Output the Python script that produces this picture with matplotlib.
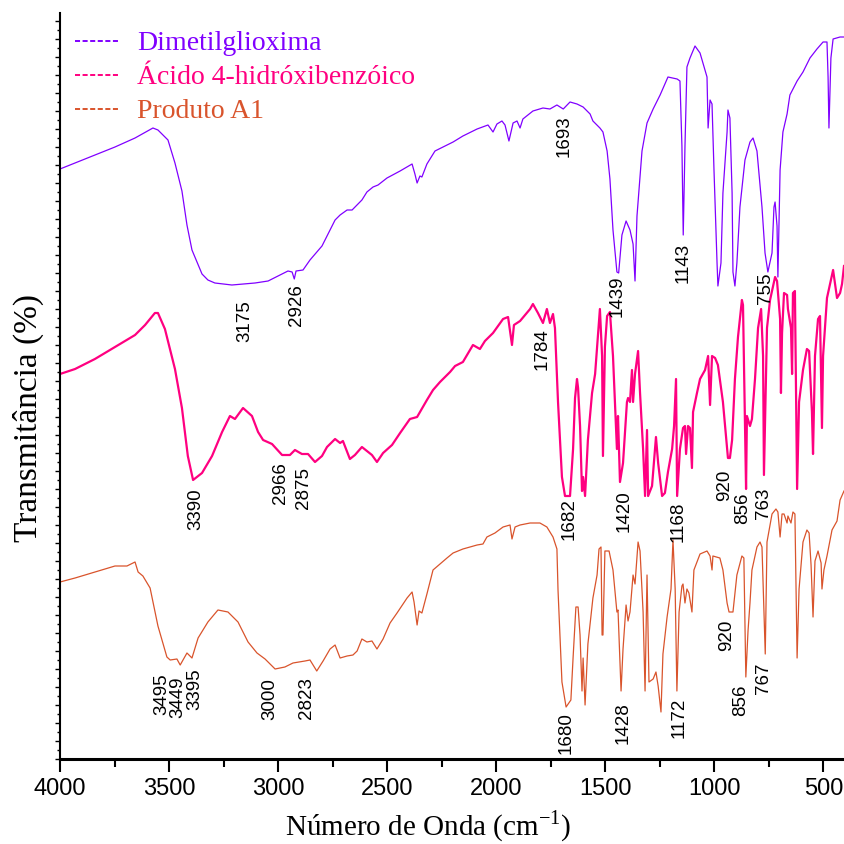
import matplotlib
matplotlib.use("Agg")
import matplotlib.pyplot as plt
from matplotlib.lines import Line2D
from matplotlib.ticker import MultipleLocator

plt.rcParams['font.family'] = ['Liberation Sans', 'DejaVu Sans']

# Dimetilglioxima (eixo y com deslocamento, sem escala)
dmg_wn = [
    4000, 3931, 3840, 3748, 3656, 3574, 3551, 3505, 3473, 3441,
    3418, 3395, 3349, 3322, 3290, 3212, 3106, 3046, 2982, 2955,
    2936, 2926, 2918, 2886, 2854, 2799, 2739, 2716, 2684, 2661,
    2616, 2593, 2565, 2542, 2501, 2441, 2386, 2373, 2363, 2350,
    2341, 2318, 2281, 2226, 2198, 2153, 2088, 2038, 2015, 1997,
    1974, 1960, 1942, 1923, 1905, 1891, 1878, 1832, 1786, 1754,
    1722, 1693, 1662, 1630, 1602, 1570, 1557, 1525, 1511, 1492,
    1479, 1465, 1447, 1439, 1424, 1405, 1387, 1373, 1364, 1355,
    1332, 1309, 1281, 1249, 1213, 1171, 1158, 1149, 1143, 1135,
    1126, 1112, 1089, 1066, 1043, 1034, 1029, 1020, 1011, 1002,
    988, 984, 970, 961, 942, 938, 929, 919, 915, 906,
    897, 883, 860, 837, 823, 805, 782, 768, 755, 736,
    727, 722, 713, 709, 699, 686, 667, 654, 621, 594,
    562, 530, 502, 484, 479, 475, 466, 456, 424, 406]
dmg_t = [
    118.0, 119.2, 120.8, 122.4, 124.2, 126.2, 125.8, 123.8, 119.2, 113.6,
    106.8, 101.8, 97.0, 95.8, 95.2, 94.8, 95.2, 95.6, 97.0, 97.6,
    97.4, 96.0, 97.6, 97.8, 99.8, 102.6, 107.8, 108.8, 109.8, 109.8,
    111.8, 113.4, 114.4, 114.8, 116.2, 117.6, 119.0, 117.0, 115.2, 116.6,
    116.4, 119.0, 121.6, 122.8, 123.4, 124.6, 126.0, 126.8, 125.4, 127.0,
    127.6, 126.8, 123.6, 127.2, 127.6, 126.2, 128.0, 129.6, 130.2, 130.0,
    130.8, 130.0, 131.4, 131.0, 130.4, 129.0, 127.6, 126.2, 125.4, 121.6,
    116.0, 105.8, 97.4, 97.2, 104.8, 107.6, 105.8, 103.0, 95.6, 108.6,
    121.6, 127.2, 130.0, 132.8, 136.4, 136.0, 135.6, 122.6, 104.8, 122.6,
    138.4, 140.2, 142.6, 141.2, 137.8, 136.4, 126.2, 131.8, 131.0, 117.8,
    99.2, 94.6, 99.2, 113.2, 125.4, 129.8, 128.2, 113.2, 97.4, 94.6,
    99.2, 110.4, 119.8, 123.4, 124.2, 121.6, 110.4, 101.2, 97.4, 101.2,
    110.4, 111.4, 106.6, 96.4, 117.8, 125.4, 129.0, 132.8, 135.6, 137.4,
    140.2, 142.0, 143.4, 143.4, 136.4, 126.2, 140.2, 144.0, 144.4, 144.4]

# Acido 4-hidroxibenzoico
hba_wn = [
    4000, 3931, 3840, 3748, 3656, 3610, 3565, 3551, 3519, 3473,
    3441, 3414, 3390, 3349, 3303, 3257, 3221, 3198, 3161, 3120,
    3092, 3069, 3028, 2982, 2946, 2923, 2891, 2863, 2831, 2799,
    2776, 2739, 2716, 2703, 2671, 2648, 2616, 2593, 2570, 2547,
    2519, 2478, 2441, 2396, 2363, 2318, 2290, 2258, 2212, 2189,
    2153, 2107, 2075, 2052, 2015, 1969, 1946, 1928, 1919, 1891,
    1845, 1832, 1809, 1786, 1768, 1754, 1740, 1731, 1717, 1699,
    1685, 1662, 1648, 1639, 1630, 1625, 1616, 1607, 1602, 1593,
    1580, 1561, 1547, 1525, 1515, 1511, 1502, 1492, 1479, 1465,
    1447, 1442, 1433, 1419, 1401, 1396, 1387, 1378, 1373, 1364,
    1350, 1341, 1327, 1318, 1309, 1304, 1286, 1268, 1258, 1240,
    1227, 1213, 1194, 1185, 1176, 1171, 1158, 1144, 1135, 1130,
    1121, 1112, 1103, 1098, 1080, 1066, 1043, 1029, 1020, 1011,
    997, 984, 961, 938, 929, 919, 906, 892, 874, 869,
    855, 851, 837, 828, 814, 800, 786, 777, 773, 759,
    745, 722, 713, 699, 695, 690, 681, 667, 663, 649,
    644, 640, 631, 621, 612, 594, 576, 566, 553, 548,
    539, 525, 516, 507, 502, 484, 456, 447, 438, 424,
    415, 406]
hba_t = [
    77.0, 78.0, 80.0, 82.4, 84.8, 86.8, 89.2, 89.2, 86.0, 78.0,
    70.2, 60.6, 55.8, 57.2, 60.6, 65.4, 68.6, 68.0, 70.2, 68.6,
    65.4, 63.8, 63.0, 60.8, 60.8, 61.8, 61.0, 61.0, 59.4, 60.6,
    62.4, 64.0, 63.2, 63.6, 60.0, 60.8, 62.4, 61.6, 60.8, 59.4,
    61.2, 62.8, 65.2, 68.0, 68.4, 71.8, 73.8, 75.4, 77.4, 78.6,
    79.4, 82.8, 82.0, 83.6, 85.2, 88.0, 88.4, 82.8, 86.8, 87.6,
    90.0, 91.0, 89.2, 87.2, 90.0, 87.2, 89.0, 86.2, 71.4, 56.4,
    52.6, 52.6, 62.0, 72.2, 76.0, 74.2, 66.6, 53.6, 56.4, 52.6,
    63.8, 73.2, 77.0, 90.0, 80.6, 60.6, 82.4, 88.6, 89.4, 80.6,
    62.0, 68.6, 55.4, 59.2, 71.4, 72.2, 71.4, 77.8, 71.4, 77.0,
    81.6, 73.2, 62.0, 52.6, 65.8, 52.6, 54.6, 64.4, 59.2, 52.6,
    53.2, 57.4, 62.0, 66.6, 76.0, 52.6, 62.0, 66.2, 66.6, 61.0,
    66.6, 66.2, 58.2, 69.4, 73.2, 76.0, 77.8, 80.6, 70.8, 80.6,
    80.2, 78.8, 71.4, 60.2, 60.2, 63.8, 76.0, 84.4, 91.8, 90.8,
    54.0, 68.6, 66.6, 68.0, 76.0, 86.2, 90.0, 80.6, 56.8, 86.2,
    91.8, 96.4, 95.6, 88.0, 73.2, 85.2, 93.2, 92.8, 90.0, 86.2,
    77.0, 93.2, 93.6, 54.0, 71.4, 77.8, 82.0, 81.6, 69.4, 61.0,
    80.6, 88.0, 88.6, 66.2, 80.6, 92.2, 97.8, 95.0, 92.2, 93.2,
    95.0, 98.6]

# Produto A1
a1_wn = [
    4000, 3931, 3840, 3748, 3693, 3656, 3642, 3620, 3587, 3551,
    3510, 3495, 3464, 3449, 3418, 3395, 3367, 3322, 3276, 3230,
    3184, 3138, 3097, 3060, 3014, 2969, 2932, 2877, 2854, 2823,
    2794, 2762, 2739, 2716, 2684, 2657, 2638, 2616, 2593, 2570,
    2547, 2519, 2487, 2455, 2409, 2386, 2377, 2363, 2354, 2341,
    2318, 2290, 2258, 2226, 2198, 2153, 2088, 2061, 2043, 2006,
    1969, 1937, 1928, 1914, 1891, 1845, 1800, 1768, 1740, 1722,
    1717, 1699, 1685, 1680, 1658, 1648, 1635, 1625, 1616, 1607,
    1602, 1593, 1580, 1557, 1538, 1529, 1520, 1515, 1511, 1502,
    1483, 1465, 1447, 1442, 1428, 1419, 1405, 1396, 1387, 1373,
    1364, 1350, 1341, 1327, 1318, 1309, 1300, 1281, 1268, 1258,
    1245, 1236, 1217, 1199, 1190, 1180, 1172, 1162, 1149, 1144,
    1135, 1126, 1117, 1103, 1094, 1066, 1034, 1020, 1011, 1007,
    975, 961, 942, 933, 915, 897, 874, 865, 856, 846,
    837, 828, 805, 791, 782, 767, 759, 736, 718, 709,
    699, 690, 681, 667, 663, 649, 640, 631, 621, 612,
    594, 576, 566, 557, 548, 539, 525, 511, 507, 498,
    484, 461, 438, 424, 406]
a1_t = [
    35.4, 36.2, 37.4, 38.6, 38.6, 39.4, 37.4, 36.6, 34.2, 26.6,
    20.4, 19.8, 20.0, 18.8, 21.2, 20.2, 24.2, 27.4, 29.8, 29.4,
    27.4, 23.4, 21.2, 20.0, 18.0, 18.4, 19.2, 19.6, 19.8, 17.6,
    19.6, 22.0, 22.8, 20.2, 20.6, 20.8, 21.6, 24.0, 23.4, 23.6,
    22.0, 24.0, 27.2, 29.2, 32.2, 33.4, 31.4, 26.8, 29.6, 29.2,
    33.0, 37.8, 39.0, 40.2, 41.2, 42.0, 42.8, 43.0, 44.4, 45.2,
    46.4, 46.8, 44.0, 46.4, 46.8, 47.2, 47.2, 46.4, 44.4, 42.0,
    33.8, 15.4, 11.8, 10.4, 11.8, 20.2, 30.4, 30.4, 24.8, 13.6,
    20.2, 10.8, 23.0, 32.2, 36.8, 42.0, 42.4, 24.8, 24.8, 41.6,
    41.6, 37.8, 29.4, 29.8, 13.6, 22.0, 30.8, 27.6, 29.4, 36.8,
    35.0, 43.4, 41.6, 29.4, 13.6, 36.8, 15.4, 16.0, 17.4, 14.6,
    9.4, 21.0, 28.4, 34.0, 43.8, 34.0, 13.6, 29.4, 34.6, 35.0,
    31.2, 34.0, 33.2, 29.4, 37.8, 41.0, 41.6, 40.6, 37.8, 40.6,
    40.2, 37.8, 31.2, 29.4, 29.4, 36.8, 40.6, 40.2, 16.4, 25.6,
    31.2, 37.8, 42.4, 43.4, 42.4, 21.0, 43.4, 49.0, 50.0, 49.4,
    44.4, 49.0, 49.0, 47.2, 48.6, 47.2, 49.4, 49.0, 20.2, 34.0,
    43.4, 45.8, 45.2, 38.8, 28.4, 39.6, 41.6, 39.2, 34.0, 37.8,
    40.6, 45.8, 47.6, 51.8, 53.6]

# rotulos dos picos
dmg_labels = ['3175', '2926', '1693', '1439', '1143', '755']
dmg_lab_x = [3152, 2914, 1690, 1447, 1144, 764]
dmg_lab_y = [91.8, 95.0, 128.8, 96.8, 103.2, 97.2]

hba_labels = ['3390', '2966', '2875', '1784', '1682', '1420', '1168', '920', '856', '763']
hba_lab_x = [3377, 2987, 2886, 1790, 1667, 1415, 1167, 952, 869, 773]
hba_lab_y = [54.2, 59.4, 58.4, 86.2, 52.2, 53.8, 51.4, 57.8, 53.2, 54.2]

a1_labels = ['3495', '3449', '3395', '3000', '2823', '1680', '1428', '1172', '920', '856', '767']
a1_lab_x = [3532, 3459, 3381, 3037, 2872, 1680, 1419, 1162, 942, 878, 777]
a1_lab_y = [17.2, 16.4, 18.2, 16.2, 16.4, 9.4, 11.4, 12.2, 27.8, 14.8, 19.2]

names = ['Dimetilglioxima', 'Ácido 4-hidróxibenzóico', 'Produto A1']
colors = ['#8000FF', '#FF0080', '#D9542C']

fig = plt.figure(figsize=(8.44, 8.44), dpi=100)
ax = fig.add_axes([60 / 844, 85 / 844, 784 / 844, 746 / 844])

ax.plot(dmg_wn, dmg_t, color=colors[0], lw=0.9)
ax.plot(hba_wn, hba_t, color=colors[1], lw=1.6)
ax.plot(a1_wn, a1_t, color=colors[2], lw=0.9)

for labs, xs, ys in [(dmg_labels, dmg_lab_x, dmg_lab_y),
                     (hba_labels, hba_lab_x, hba_lab_y),
                     (a1_labels, a1_lab_x, a1_lab_y)]:
    for txt, x, y in zip(labs, xs, ys):
        ax.text(x, y, txt, rotation=90, ha='center', va='top', fontsize=13.5)

ax.set_xlim(4000, 406)
ax.set_ylim(0, 149.2)

ax.xaxis.set_major_locator(MultipleLocator(500))
ax.xaxis.set_minor_locator(MultipleLocator(250))
ax.yaxis.set_major_locator(MultipleLocator(3.6))
ax.yaxis.set_minor_locator(MultipleLocator(1.8))
ax.tick_params(axis='x', which='major', direction='out', length=9, width=1.5,
               labelsize=17, pad=5)
ax.tick_params(axis='x', which='minor', direction='out', length=6, width=1.5)
ax.tick_params(axis='y', which='major', direction='out', length=3.5, width=1, labelleft=False)
ax.tick_params(axis='y', which='minor', direction='out', length=2, width=1)

ax.spines['top'].set_visible(False)
ax.spines['right'].set_visible(False)
ax.spines['left'].set_linewidth(1.5)
ax.spines['bottom'].set_linewidth(2.2)

ax.set_xlabel('Número de Onda (cm$^{\\mathregular{-1}}$)', family='Liberation Serif', fontsize=21)
ax.xaxis.set_label_coords(0.47, -0.066)
ax.set_ylabel('Transmitância (%)', family='Liberation Serif', fontsize=24)
ax.yaxis.set_label_coords(-0.021, 0.457)

handles = [Line2D([], [], color=c, lw=1.4, ls=(0, (2.6, 1.3))) for c in colors]
leg = ax.legend(handles, names, loc='upper left', bbox_to_anchor=(0.019, 0.976),
                frameon=False, prop={'family': 'Liberation Serif', 'size': 20},
                handlelength=1.55, handletextpad=0.7, labelspacing=0.31,
                borderaxespad=0, borderpad=0)
for t, c in zip(leg.get_texts(), colors):
    t.set_color(c)

fig.savefig('out.png', dpi=100)
